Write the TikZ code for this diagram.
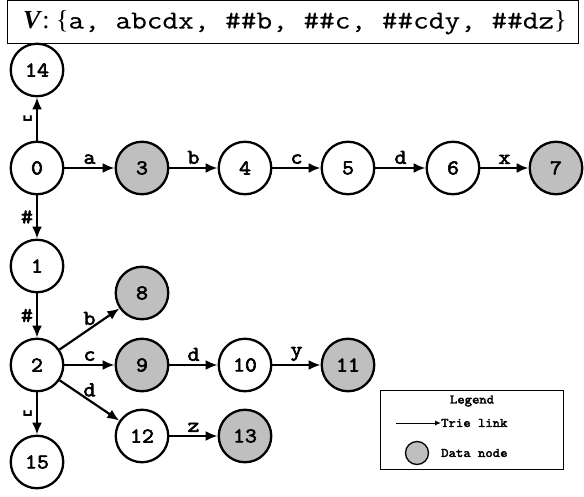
\documentclass[tikz,border=0pt]{standalone}
\usepackage{fontspec}
\setmainfont{Liberation Serif}
\newfontfamily\cour{Latin Modern Mono}[FakeStretch=1.17,FakeBold=0.3]
\newfontfamily\courb{Latin Modern Mono}[FakeStretch=1.1,FakeBold=3]
\newfontfamily\dvm{DejaVu Sans Mono}
\usetikzlibrary{arrows.meta}
\begin{document}
\begin{tikzpicture}[x=1pt,y=-1pt,
  tn/.style={circle, draw, line width=2.3pt, minimum size=52.5pt, inner sep=0pt, font=\courb\fontsize{21}{21}\selectfont},
  dn/.style={tn, fill=lightgray},
  link/.style={line width=2.2pt, -{Latex[length=12pt,width=10pt]}},
  elab/.style={font=\courb\fontsize{21}{21}\selectfont, inner sep=3pt},
  lg/.style={font=\courb\fontsize{13}{13}\selectfont, inner sep=0pt}]
\useasboundingbox (0,0) rectangle (584,497);
% title
\node[draw, line width=1pt, minimum width=570.5pt, minimum height=43pt, inner sep=0pt] (title) at (292.75,22.5) {};
\node[anchor=west, inner sep=0pt, font=\fontsize{26}{30}\selectfont] (ttext) at (23,22.5)
  {\textbf{\textit{V}}: \{{\cour a, abcdx, \#\#b, \#\#c, \#\#cdy, \#\#dz}\}};
% nodes
\node[tn] (n14) at (37,70) {14};
\node[tn] (n0) at (37,168) {0};
\node[dn] (n3) at (142,168) {3};
\node[tn] (n4) at (245,168) {4};
\node[tn] (n5) at (348,168) {5};
\node[tn] (n6) at (453,168) {6};
\node[dn] (n7) at (556,168) {7};
\node[tn] (n1) at (37,266) {1};
\node[tn] (n2) at (37,365) {2};
\node[dn] (n8) at (142,293) {8};
\node[dn] (n9) at (142,365) {9};
\node[tn] (n10) at (245,365) {10};
\node[dn] (n11) at (348,365) {11};
\node[tn] (n12) at (142,436) {12};
\node[dn] (n13) at (245,436) {13};
\node[tn] (n15) at (37,462) {15};
% edges
\draw[link] (n0) -- node[elab, left] {\dvm\bfseries\fontsize{17}{17}\selectfont ␣} (n14);
\draw[link] (n0) -- node[elab, above] {a} (n3);
\draw[link] (n3) -- node[elab, above] {b} (n4);
\draw[link] (n4) -- node[elab, above] {c} (n5);
\draw[link] (n5) -- node[elab, above] {d} (n6);
\draw[link] (n6) -- node[elab, above] {x} (n7);
\draw[link] (n0) -- node[elab, left] {\#} (n1);
\draw[link] (n1) -- node[elab, left] {\#} (n2);
\draw[link] (n2) -- node[elab, above] {b} (n8);
\draw[link] (n2) -- node[elab, above] {c} (n9);
\draw[link] (n2) -- node[elab, above] {d} (n12);
\draw[link] (n9) -- node[elab, above] {d} (n10);
\draw[link] (n10) -- node[elab, above] {y} (n11);
\draw[link] (n12) -- node[elab, above] {z} (n13);
\draw[link] (n2) -- node[elab, left] {\dvm\bfseries\fontsize{17}{17}\selectfont ␣} (n15);
% legend
\node[draw, line width=1pt, minimum width=183pt, minimum height=79pt, inner sep=0pt] (legend) at (471.5,429.5) {};
\node[lg] (lgt) at (472,401) {Legend};
\coordinate (la) at (396,423);
\coordinate (lb) at (441,423);
\draw[line width=1pt, -{Latex[length=6pt,width=5pt]}] (la) -- (lb);
\node[lg, anchor=west] (lgl) at (441,423) {Trie link};
\node[circle, draw, line width=1.3pt, fill=lightgray, minimum size=23pt, inner sep=0pt] (lgc) at (417,453) {};
\node[lg, anchor=west] (lgd) at (441,453) {Data node};
\end{tikzpicture}
\end{document}
